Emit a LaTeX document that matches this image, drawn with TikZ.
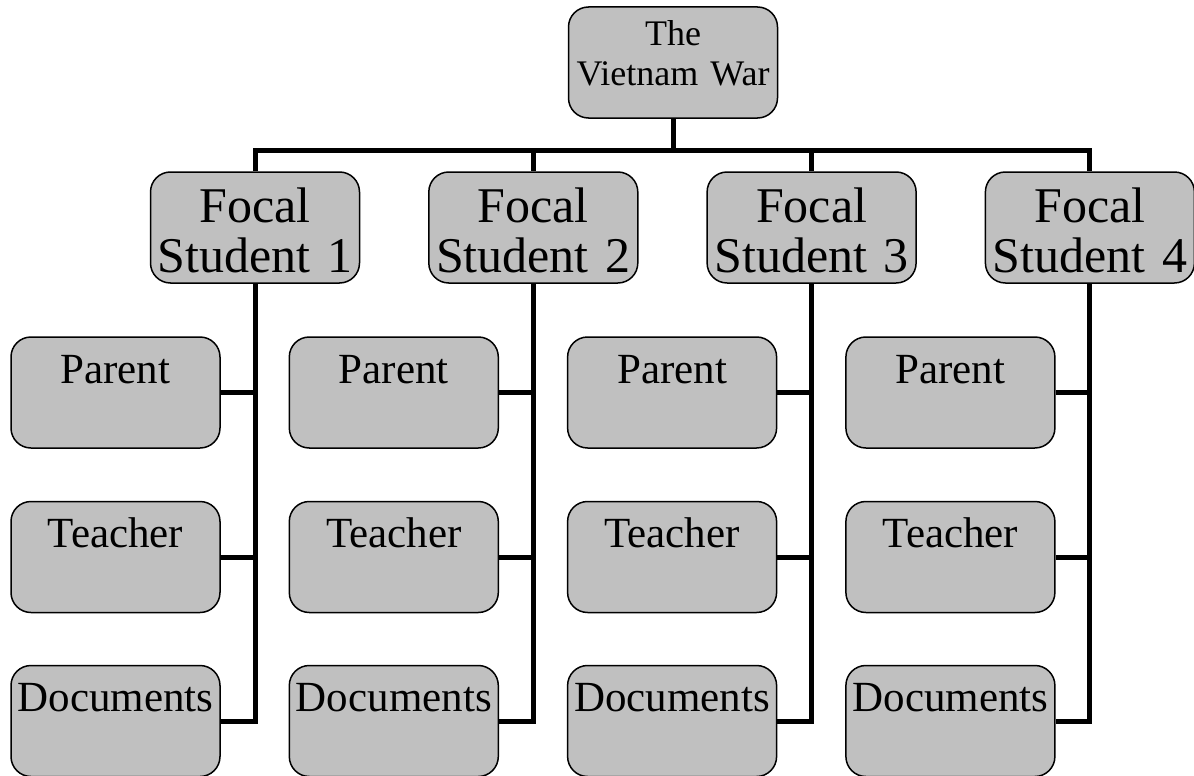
\documentclass[tikz,border=0pt]{standalone}
\usepackage{fontspec}
\setmainfont{Liberation Serif}
\usetikzlibrary{calc, positioning}
\definecolor{boxgray}{RGB}{192,192,192}

\tikzset{
    box/.style={draw, line width=1.5pt, fill=boxgray, rounded corners=20pt,
        inner sep=0pt, align=center, text width=209pt},
    topbox/.style={box, font=\fontsize{36}{40}\selectfont, minimum height=111pt},
    focalbox/.style={box, font=\fontsize{50}{50}\selectfont, minimum height=111pt},
    childbox/.style={box, font=\fontsize{43}{48}\selectfont, text height=46pt, text depth=65pt},
    conn/.style={line width=5pt, line join=miter}
}

\begin{document}
\begin{tikzpicture}[x=1pt, y=-1pt]

    \useasboundingbox (0,0) rectangle (1194,776);

    % Top of the tree
    \node[topbox] (war) at (673,62.5) {The\\Vietnam War\rule[-18pt]{0pt}{18pt}};
    \coordinate (bus) at (673,150);
    \draw[conn] (war.south) -- (bus);

    % Focal students and their sources
    \foreach \i in {1,2,3,4} {
        \pgfmathsetmacro{\xf}{255 + 278.3*(\i-1)}
        \pgfmathsetmacro{\xc}{\xf - 139.5}
        \node[focalbox] (fs\i) at (\xf,227.5) {\rule{0pt}{40pt}Focal\\Student \i};
        \draw[conn] (bus) -| (fs\i.north);

        \node[childbox] (par\i) at (\xc,392.5) {Parent};
        \node[childbox] (tea\i) at (\xc,557) {Teacher};
        \node[childbox] (doc\i) at (\xc,721) {Documents};

        \draw[conn] (fs\i.south) |- (doc\i.east);
        \draw[conn] (par\i.east) -- (par\i.east -| fs\i.south);
        \draw[conn] (tea\i.east) -- (tea\i.east -| fs\i.south);
    }

\end{tikzpicture}
\end{document}
